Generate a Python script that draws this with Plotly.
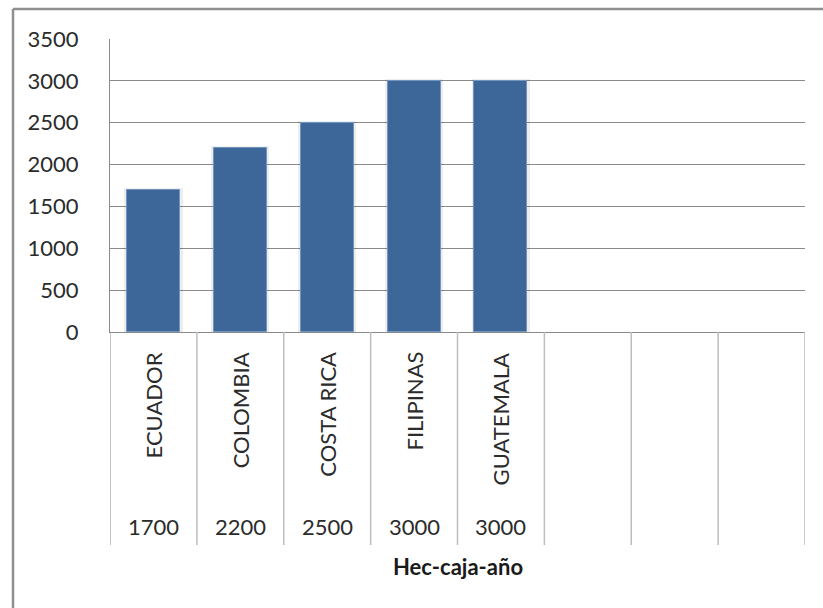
import plotly.graph_objects as go

# Data
countries = ["ECUADOR", "COLOMBIA", "COSTA RICA", "FILIPINAS", "GUATEMALA"]
values = [1700, 2200, 2500, 3000, 3000]
value_labels = ["1700", "2200", "2500", "3000", "3000"]
n_slots = 8  # category slots on the axis (last ones are empty)
y_ticks = [0, 500, 1000, 1500, 2000, 2500, 3000, 3500]
axis_title = "Hec-caja-año"

# Layout geometry (pixels)
W, H = 823, 608
PL, PR, PT, PB = 110, 805, 39, 332


def px(xp):
    return (xp - PL) / (PR - PL)


def py(yp):
    return (PB - yp) / (PB - PT)


FONT = "Lato, Calibri, Carlito, sans-serif"
TXT = "#2b2b2b"
BAR = "#3d6798"
GRID = "#8a8a8a"
DIV = "#bdbdbd"

xs = list(range(len(countries)))

fig = go.Figure()

# soft shadow around the bars
fig.add_trace(go.Bar(
    x=xs, y=[v + 25 for v in values], width=0.67,
    marker=dict(color="rgba(0,0,0,0.07)", line=dict(width=0)),
    hoverinfo="skip", showlegend=False,
))
fig.add_trace(go.Bar(
    x=xs, y=values, width=0.61,
    marker=dict(color=BAR, line=dict(color="#7396c0", width=1)),
    showlegend=False,
))

shapes = []
# category dividers below the plot
for k in range(n_slots + 1):
    shapes.append(dict(
        type="line", xref="x", yref="paper",
        x0=k - 0.5, x1=k - 0.5, y0=0, y1=py(545),
        line=dict(color=GRID if k == 0 else DIV, width=1.5 if k else 1),
    ))
# outer chart border (top and left)
shapes.append(dict(type="line", xref="paper", yref="paper",
                   x0=px(13), x1=px(W + 5), y0=py(9), y1=py(9),
                   line=dict(color="#8f8f8f", width=2.5)))
shapes.append(dict(type="line", xref="paper", yref="paper",
                   x0=px(13), x1=px(13), y0=py(9), y1=py(H + 5),
                   line=dict(color="#8f8f8f", width=2.5)))

annotations = []
for i, (c, v) in enumerate(zip(countries, value_labels)):
    annotations.append(dict(
        x=i, y=py(350), xref="x", yref="paper", text=c, textangle=-90,
        xanchor="center", yanchor="top", showarrow=False,
        font=dict(family=FONT, size=22, color=TXT),
    ))
    annotations.append(dict(
        x=i, y=py(526), xref="x", yref="paper", text=v,
        xanchor="center", yanchor="middle", showarrow=False,
        font=dict(family=FONT, size=22, color=TXT),
    ))
annotations.append(dict(
    x=(n_slots - 1) / 2, y=py(566), xref="x", yref="paper",
    text="<b>" + axis_title + "</b>", xanchor="center", yanchor="middle",
    showarrow=False, font=dict(family=FONT, size=22, color="#1a1a1a"),
))

fig.update_layout(
    width=W, height=H,
    margin=dict(l=PL, r=W - PR, t=PT, b=H - PB),
    paper_bgcolor="white", plot_bgcolor="white",
    barmode="overlay", bargap=0,
    shapes=shapes, annotations=annotations,
    xaxis=dict(range=[-0.5, n_slots - 0.5], showticklabels=False,
               showgrid=False, zeroline=False, showline=True,
               linecolor=GRID, linewidth=1, ticks=""),
    yaxis=dict(range=[0, 3500], tickvals=y_ticks,
               ticktext=[str(t) for t in y_ticks],
               showgrid=True, gridcolor=GRID, gridwidth=1,
               zeroline=False, showline=True, linecolor=GRID, linewidth=1,
               ticks="", ticklabelstandoff=26,
               tickfont=dict(family=FONT, size=22, color=TXT)),
)

fig.write_html("out.html")
